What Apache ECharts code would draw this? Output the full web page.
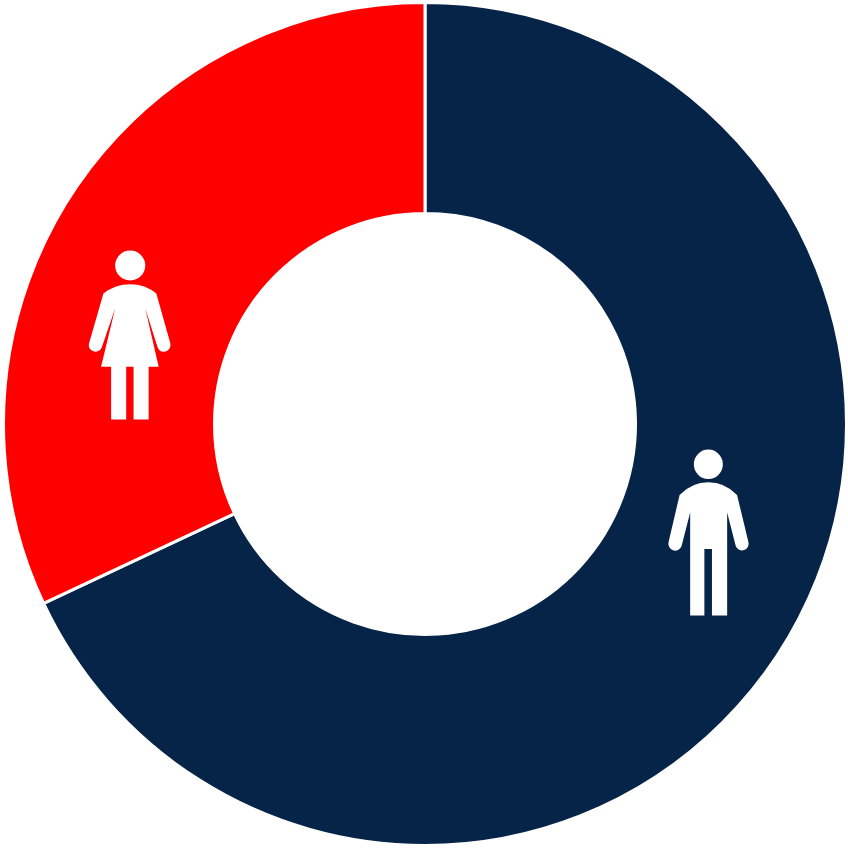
<!DOCTYPE html>
<html>
<head>
<meta charset="utf-8">
<style>html,body{margin:0;padding:0;background:#fff}#c{width:848px;height:848px}</style>
<script src="https://cdn.jsdelivr.net/npm/echarts@6/dist/echarts.min.js"></script>
</head>
<body>
<div id="c"></div>
<script>
var categories = ['Men', 'Women'];
var shares = [68, 32];
var colors = ['#062448', '#ff0000'];

var femaleIcon = 'path://M135 76A45 45 0 1 1 225 76A45 45 0 1 1 135 76Z' +
  'M100 160Q135 132 180 132Q225 132 258 160L300 310A20 20 0 0 1 262 322L225 205L265 380L235 380L235 538L190 538L190 380L168 380L168 538L123 538L123 380L93 380L135 205L95 322A20 20 0 0 1 57 310Z';
var maleIcon = 'path://M131 73A44 44 0 1 1 219 73A44 44 0 1 1 131 73Z' +
  'M88 165Q125 127 175 127Q225 127 262 165L296 305A20 20 0 0 1 258 318L232 218L232 527L186 527L186 327L163 327L163 527L120 527L120 218L94 318A20 20 0 0 1 55 305Z';

var iconSymbols = [maleIcon, femaleIcon];
var iconCenters = [[708.5, 532.6], [129.7, 335]];
var iconSizes = [[80.3, 166], [81.7, 169]];

var chart = echarts.init(document.getElementById('c'), null, { renderer: 'canvas' });
chart.setOption({
  animation: false,
  grid: { left: 0, right: 0, top: 0, bottom: 0 },
  xAxis: { type: 'value', min: 0, max: 848, show: false },
  yAxis: { type: 'value', min: 0, max: 848, inverse: true, show: false },
  series: [{
    type: 'pie',
    center: [425, 424],
    radius: [210.5, 421.5],
    startAngle: 90,
    clockwise: true,
    label: { show: false },
    labelLine: { show: false },
    silent: true,
    itemStyle: { borderColor: '#ffffff', borderWidth: 3 },
    data: categories.map(function (name, i) {
      return { name: name, value: shares[i], itemStyle: { color: colors[i] } };
    })
  }, {
    type: 'scatter',
    silent: true,
    z: 5,
    itemStyle: { color: '#ffffff', opacity: 1 },
    data: categories.map(function (name, i) {
      return { name: name, value: iconCenters[i], symbol: iconSymbols[i], symbolSize: iconSizes[i] };
    })
  }]
});
</script>
</body>
</html>
